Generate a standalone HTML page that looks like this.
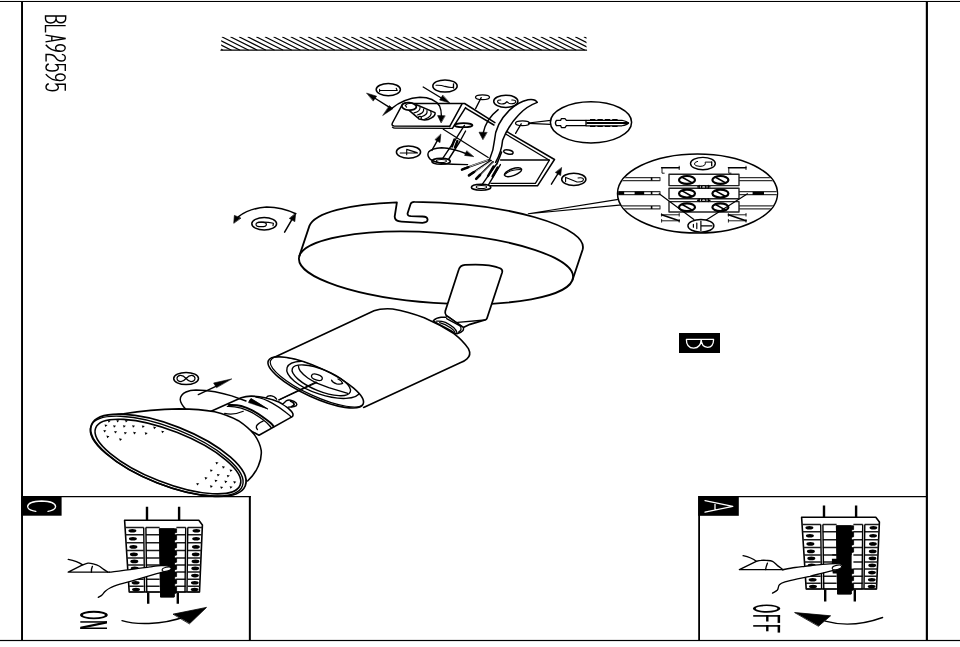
<!DOCTYPE html>
<html><head><meta charset="utf-8"><title>BLA92595</title>
<style>
html,body{margin:0;padding:0;background:#fff;}
body{width:960px;height:647px;overflow:hidden;font-family:"Liberation Sans",sans-serif;}
svg{display:block}
</style></head><body>
<svg width="960" height="647" viewBox="0 0 960 647" stroke-linecap="round" stroke-linejoin="round">
<defs><clipPath id="hclip"><rect x="221.2" y="36.8" width="365.3" height="13.6"/></clipPath></defs>
<rect width="960" height="647" fill="#fff"/>
<g id="frame" stroke="#000" fill="none">
<rect x="0" y="0.95" width="960" height="1.05" fill="#000" stroke="none"/>
<rect x="0" y="639.9" width="960" height="1.2" fill="#000" stroke="none"/>
<rect x="21.05" y="1" width="1.95" height="639.5" fill="#000" stroke="none"/>
<rect x="925.8" y="1" width="2.15" height="639.5" fill="#000" stroke="none"/>
<path d="M22,496.55 H250.8" stroke-width="1.15" stroke-linecap="butt"/><path d="M249.85,496 V640" stroke-width="2" stroke-linecap="butt"/>
<path d="M927,496.55 H699.2" stroke-width="1.15" stroke-linecap="butt"/><path d="M699.1,496 V640" stroke-width="1.8" stroke-linecap="butt"/>
</g>
<g id="hatch" stroke="#000" stroke-width="1.35" fill="none" clip-path="url(#hclip)">
<line x1="196.40" y1="37" x2="222.40" y2="50"/>
<line x1="205.02" y1="37" x2="231.02" y2="50"/>
<line x1="213.64" y1="37" x2="239.64" y2="50"/>
<line x1="222.26" y1="37" x2="248.26" y2="50"/>
<line x1="230.88" y1="37" x2="256.88" y2="50"/>
<line x1="239.50" y1="37" x2="265.50" y2="50"/>
<line x1="248.12" y1="37" x2="274.12" y2="50"/>
<line x1="256.74" y1="37" x2="282.74" y2="50"/>
<line x1="265.36" y1="37" x2="291.36" y2="50"/>
<line x1="273.98" y1="37" x2="299.98" y2="50"/>
<line x1="282.60" y1="37" x2="308.60" y2="50"/>
<line x1="291.22" y1="37" x2="317.22" y2="50"/>
<line x1="299.84" y1="37" x2="325.84" y2="50"/>
<line x1="308.46" y1="37" x2="334.46" y2="50"/>
<line x1="317.08" y1="37" x2="343.08" y2="50"/>
<line x1="325.70" y1="37" x2="351.70" y2="50"/>
<line x1="334.32" y1="37" x2="360.32" y2="50"/>
<line x1="342.94" y1="37" x2="368.94" y2="50"/>
<line x1="351.56" y1="37" x2="377.56" y2="50"/>
<line x1="360.18" y1="37" x2="386.18" y2="50"/>
<line x1="368.80" y1="37" x2="394.80" y2="50"/>
<line x1="377.42" y1="37" x2="403.42" y2="50"/>
<line x1="386.04" y1="37" x2="412.04" y2="50"/>
<line x1="394.66" y1="37" x2="420.66" y2="50"/>
<line x1="403.28" y1="37" x2="429.28" y2="50"/>
<line x1="411.90" y1="37" x2="437.90" y2="50"/>
<line x1="420.52" y1="37" x2="446.52" y2="50"/>
<line x1="429.14" y1="37" x2="455.14" y2="50"/>
<line x1="437.76" y1="37" x2="463.76" y2="50"/>
<line x1="446.38" y1="37" x2="472.38" y2="50"/>
<line x1="455.00" y1="37" x2="481.00" y2="50"/>
<line x1="463.62" y1="37" x2="489.62" y2="50"/>
<line x1="472.24" y1="37" x2="498.24" y2="50"/>
<line x1="480.86" y1="37" x2="506.86" y2="50"/>
<line x1="489.48" y1="37" x2="515.48" y2="50"/>
<line x1="498.10" y1="37" x2="524.10" y2="50"/>
<line x1="506.72" y1="37" x2="532.72" y2="50"/>
<line x1="515.34" y1="37" x2="541.34" y2="50"/>
<line x1="523.96" y1="37" x2="549.96" y2="50"/>
<line x1="532.58" y1="37" x2="558.58" y2="50"/>
<line x1="541.20" y1="37" x2="567.20" y2="50"/>
<line x1="549.82" y1="37" x2="575.82" y2="50"/>
<line x1="558.44" y1="37" x2="584.44" y2="50"/>
<line x1="567.06" y1="37" x2="593.06" y2="50"/>
<line x1="575.68" y1="37" x2="601.68" y2="50"/>
<line x1="584.30" y1="37" x2="610.30" y2="50"/>
</g><line x1="221" y1="50.2" x2="586.5" y2="50.2" stroke="#000" stroke-width="1.3"/>
<g id="model" transform="translate(45.5,15.3) rotate(90) scale(1,0.96)" stroke="#000" stroke-width="1.45" fill="none" stroke-linecap="butt" stroke-linejoin="miter">
<!-- B -->
<g transform="translate(0,0)"><path d="M0.6,0 V-21 M0,-21 H3.6 Q7.4,-20.6 7.4,-16 Q7.4,-11.6 3.6,-11 H0.6 M3.6,-11 Q7.6,-10.4 7.6,-5.4 Q7.6,-0.4 3.6,0 H0"/></g>
<!-- L -->
<g transform="translate(9.7,0)"><path d="M0.6,-21 V0 H7.4"/></g>
<!-- A -->
<g transform="translate(19.6,0)"><path d="M0.2,0 L3.6,-21 L7,0 M1.2,-6.6 H6"/></g>
<!-- 9 -->
<g transform="translate(28.9,0)"><ellipse cx="3.8" cy="-15.5" rx="3.3" ry="5"/><path d="M7.1,-15 Q7,-5.5 0.6,-0.3"/></g>
<!-- 2 -->
<g transform="translate(38.5,0)"><path d="M0.6,-17 Q1,-20.6 3.9,-20.6 Q7.2,-20.6 7.2,-16.4 Q7.2,-12.6 3.6,-10.4 Q0.6,-8.4 0.6,-4 V-0.6 H7.8"/></g>
<!-- 5 -->
<g transform="translate(48.3,0)"><path d="M7.4,-20.6 H1 V-11.4 Q2.4,-13.4 4.2,-13.4 Q7.4,-13.2 7.4,-7 Q7.4,-0.5 3.8,-0.5 Q1.2,-0.5 0.4,-3.4"/></g>
<!-- 9 -->
<g transform="translate(58.2,0)"><ellipse cx="3.8" cy="-15.5" rx="3.3" ry="5"/><path d="M7.1,-15 Q7,-5.5 0.6,-0.3"/></g>
<!-- 5 -->
<g transform="translate(68,0)"><path d="M7.4,-20.6 H1 V-11.4 Q2.4,-13.4 4.2,-13.4 Q7.4,-13.2 7.4,-7 Q7.4,-0.5 3.8,-0.5 Q1.2,-0.5 0.4,-3.4"/></g>
</g>

<g id="base" stroke="#000" stroke-width="1.8" fill="none">
<!-- front (lower) ellipse -->
<ellipse cx="436" cy="267.8" rx="137.4" ry="35.1" transform="rotate(4 436 267.8)" fill="#fff"/>
<!-- top edge with notch -->
<path d="M299.4,255.9 L309.4,225.9 A137.4,35.1 4 0 1 396.9,202.3
 L394.7,216.5 Q394.6,221.2 401.5,221.6 L422.5,222.8 Q427.6,222.6 427.6,219.6 Q427.4,216.6 422.5,216.5 L411,216.2 Q407.2,216 407.6,213.2 L410.6,204 Q411.4,201.8 414.5,201.9
 A137.4,35.1 4 0 1 582.6,249.7 L572.6,279.7"/>
</g>
<g id="arm" stroke="#000" stroke-width="1.75" fill="#fff">
<path d="M445.3,311 L458.8,269.6 Q460,265.3 465,264.9 Q479,264.1 489,265.3 Q497,266.5 500.6,268.6 Q502.8,270 502.2,272.2 L487,318.2 Q486.6,319.6 485,320 L478.3,321.8 L470,324.3 L463.3,327.5 L446.2,315.4 Q444.6,313.4 445.3,311 Z"/>
<path d="M485,320 L457.6,322.4" fill="none" stroke-width="1.4"/>
</g>

<g id="head" stroke="#000" stroke-width="1.6" fill="none">
<!-- cylinder body -->
<path d="M272.3,358.2 L374,310.8 Q381,308.2 392.7,309 Q408,311.6 424.2,317.8 Q440,324.5 453.9,333.6 Q463,340.6 468.4,348.6 Q471.6,355 467,358.8 Q464,361.4 460.8,362.6 L363.6,407.4" fill="#fff"/>
<!-- front face -->
<ellipse cx="315.75" cy="382.4" rx="52.1" ry="14.9" transform="rotate(24.65 315.75 382.4)" fill="#fff"/>
<clipPath id="faceclip"><ellipse cx="315.75" cy="382.4" rx="52.1" ry="14.9" transform="rotate(24.65 315.75 382.4)"/></clipPath>
<g clip-path="url(#faceclip)">
<ellipse cx="317.4" cy="381.9" rx="51.4" ry="14.3" transform="rotate(24.65 317.4 381.9)" stroke-width="1.2"/>
<ellipse cx="323.5" cy="379.8" rx="38.4" ry="14.9" transform="rotate(18.5 323.5 379.8)" stroke-width="1.4"/>
</g>
<!-- socket ring 2 -->
<ellipse cx="321.3" cy="380.3" rx="31.2" ry="10.8" transform="rotate(22 321.3 380.3)" stroke-width="1.4"/>
<!-- inner arc / floor -->
<path d="M298.4,365.8 Q298.6,369 300.2,371 Q303.4,375 307.8,378 Q312,380.8 316.2,382.8 L328.7,387.7 L347.8,393.4" stroke-width="1.3"/>
<ellipse cx="316.9" cy="377.25" rx="5.6" ry="2.8" transform="rotate(18 316.9 377.25)" stroke-width="1.3"/>
<path d="M331.6,380.2 Q332.4,382.6 336.6,383.8 Q340.6,384.6 342.6,383.4 Q342,380.8 338,379 " stroke-width="1.3"/>
<path d="M316.9,382.5 L279,400" stroke-width="1.2"/>
</g>
<g id="joint" stroke="#000" stroke-width="1.5" fill="none">
<path d="M446,317.2 L441,317.2 Q436,317.6 433.3,320.8 Q438,324 445,327.5 Q451,330.6 455,333.3 L457,333.8 Q461,333 463,330.6 Q464,328.8 463.3,327.5 L447.5,316.4 Z" fill="#fff"/>
<path d="M436.6,321.2 Q441,320.8 445.4,322.4 Q450,324.6 453.6,327.6 Q456.4,330.2 456.9,332.6" stroke-width="1.3"/>
<path d="M439.6,322.6 Q445,323.8 451,328 Q454.2,330.4 454.6,332" stroke-width="1.2"/>
<path d="M446.6,318.6 L459.6,325.6 Q461.6,327.4 461,329.6 Q460.2,331.4 458.6,332.2" stroke-width="1.3"/>
</g>

<g id="bulb" stroke="#000" stroke-width="1.58" fill="none">
<!-- base -->
<path d="M210,411.8 L241.2,397.7 Q246,396 251.7,396.1 Q258,396.2 265,397.8 Q272,399.4 278.8,402 Q284,404.6 288.1,408.1 Q292,411.4 292.8,413.6 Q293.4,415.6 292.3,416.6 L259,435.2 L240,425 Z" fill="#fff"/>
<path d="M255.8,397.2 Q264,398.4 272.6,403.4 Q280,407.6 286,412.4 Q290,415.4 291.2,417" stroke-width="1.29"/>
<!-- ring -->
<path d="M228.8,405 Q236,404.6 241.2,406 Q247,407.6 251.7,410.2 Q257,413 262.1,416.5 Q267,420 270.4,422.7 Q272.6,424.6 273.6,426.4" stroke-width="2"/>
<path d="M227.4,406.4 Q234,406.2 241.2,408.2 Q247,410.2 251.7,412.4 Q257,415.4 262.1,419 Q267,422.6 269.2,425.2 Q270.8,427 271.2,427.8" stroke-width="1.4"/>
<path d="M263.1,421.1 Q257.8,423.4 256.5,426 Q255.8,428 257.4,429.6" stroke-width="1.4"/>
<path d="M224.6,413.4 Q234,415.4 243.3,411.3" stroke-width="1.17"/>
<!-- pins -->
<path d="M266.6,397.6 Q267.4,395.6 270.6,395.6 Q274.6,396 276.6,399.2" stroke-width="1.29" fill="#fff"/>
<path d="M282.9,404 L286.6,400.6 Q288.4,399.6 290.6,400.2 Q294.6,401.4 296.2,403 Q297.4,404.6 296.4,405.6 Q294.6,406.8 291,407 L288.1,407.1" stroke-width="1.4" fill="#fff"/>
<path d="M290.6,401.2 Q293.6,402 294.2,404.2 Q293.8,406 291.6,406.6 " stroke-width="1.64"/>
<path d="M278.8,399.8 L316,382" stroke-width="1.29"/>
<!-- dome -->
<path d="M165,409.3 Q180,408.6 192,408.9 Q203,409.4 214.7,411.8 Q228,415.2 238.4,420.7 Q248.4,427.4 254.3,434.6 Q260,442.4 261.2,450.4 Q262,458 258.2,466.3 Q255,474 247.6,481 L160,470 Z" fill="#fff" stroke="none"/>
<path d="M102,417.4 Q112,415.2 123.6,413.8 Q150,409.6 179,408.9 Q200,409 214.7,411.8 Q228,415.2 238.4,420.7 Q248.4,427.4 254.3,434.6 Q260,442.4 261.2,450.4 Q262,458 258.2,466.3 Q255,474 247.6,481"/>
<!-- back bump with rotation arc -->
<path d="M185.4,408.8 Q180.6,403.6 180.2,399.6 Q180.4,394.6 186,392 Q190,390.2 196,390 Q205,390 215,391.8 Q224,393.6 231.7,395.8 L246,401" stroke-width="1.4"/>
<path d="M267.4,408.8 L249,401.4 L251.2,398.6 Q258,402.6 267.4,408.8 Z" fill="#000" stroke-width="0.7"/>
<path d="M267.4,408.8 L248.4,402.6 L250.4,399 Z" fill="#000" stroke-width="0.5"/>
<!-- reflector rim -->
<ellipse cx="168.4" cy="455.3" rx="82.7" ry="29.8" transform="rotate(21.6 168.4 455.3)" fill="#fff" stroke-width="1.7"/>
<ellipse cx="166.7" cy="456.1" rx="81.4" ry="28.4" transform="rotate(21.6 166.7 456.1)" stroke-width="1.4"/>
<ellipse cx="167.9" cy="456.55" rx="77.7" ry="25.8" transform="rotate(21.6 167.9 456.55)" stroke-width="1.6"/>
</g>
<g id="dots" fill="#000" stroke="none">
<path d="M107.7,420.1 L110.7,420.7 L108.6,422.7 Z"/>
<path d="M116.4,419.9 L119.4,420.5 L117.3,422.5 Z"/>
<path d="M125.0,419.9 L128.0,420.5 L125.9,422.5 Z"/>
<path d="M104.5,424.5 L107.5,425.1 L105.4,427.1 Z"/>
<path d="M113.1,425.2 L116.1,425.8 L114.0,427.8 Z"/>
<path d="M122.9,425.2 L125.9,425.8 L123.8,427.8 Z"/>
<path d="M132.1,425.2 L135.1,425.8 L133.0,427.8 Z"/>
<path d="M141.8,425.5 L144.8,426.1 L142.7,428.1 Z"/>
<path d="M153.2,426.6 L156.2,427.2 L154.1,429.2 Z"/>
<path d="M103.4,429.9 L106.4,430.5 L104.3,432.5 Z"/>
<path d="M114.2,431.0 L117.2,431.6 L115.1,433.6 Z"/>
<path d="M124.0,432.0 L127.0,432.6 L124.9,434.6 Z"/>
<path d="M133.2,431.8 L136.2,432.4 L134.1,434.4 Z"/>
<path d="M144.7,432.3 L147.7,432.9 L145.6,434.9 Z"/>
<path d="M161.3,430.7 L164.3,431.3 L162.2,433.3 Z"/>
<path d="M106.4,435.6 L109.4,436.2 L107.3,438.2 Z"/>
<path d="M119.1,438.3 L122.1,438.9 L120.0,440.9 Z"/>
<path d="M215.5,461.9 L218.5,462.5 L216.4,464.5 Z"/>
<path d="M222.1,466.1 L225.1,466.7 L223.0,468.7 Z"/>
<path d="M209.9,469.4 L212.9,470.0 L210.8,472.0 Z"/>
<path d="M229.6,469.4 L232.6,470.0 L230.5,472.0 Z"/>
<path d="M216.9,474.0 L219.9,474.6 L217.8,476.6 Z"/>
<path d="M226.8,475.0 L229.8,475.6 L227.7,477.6 Z"/>
<path d="M204.6,477.1 L207.6,477.7 L205.5,479.7 Z"/>
<path d="M214.6,479.7 L217.6,480.3 L215.5,482.3 Z"/>
<path d="M224.4,480.6 L227.4,481.2 L225.3,483.2 Z"/>
<path d="M233.3,481.1 L236.3,481.7 L234.2,483.7 Z"/>
<path d="M196.3,482.9 L199.3,483.5 L197.2,485.5 Z"/>
<path d="M209.9,485.3 L212.9,485.9 L210.8,487.9 Z"/>
<path d="M220.2,486.5 L223.2,487.1 L221.1,489.1 Z"/>
<path d="M229.6,486.2 L232.6,486.8 L230.5,488.8 Z"/>
</g>
<g id="a8" stroke="#000" stroke-width="1.4" fill="none">
<path d="M198.3,394.6 L218,385.4"/>
<path d="M231.4,379 L213.6,383 L216.4,387.4 Z" fill="#000" stroke-width="0.6"/>
<ellipse cx="186.1" cy="378.5" rx="12.4" ry="6.1" stroke-width="1.52"/>
<path d="M186.1,378.5 Q183,375 180,375.4 Q176.8,376.2 177,378.6 Q177.4,381.4 181,381.6 Q183.6,381.2 186.1,378.5 Q189,375.2 192,375.4 Q195.2,376.2 195,378.6 Q194.6,381.4 191,381.6 Q188.4,381.2 186.1,378.5" stroke-width="1.17"/>
</g>

<g id="bracket" stroke="#000" stroke-width="1.52" fill="none">
<!-- flat plate -->
<path d="M404.4,103.5 H464.6 L494.9,122.6" />
<path d="M404.4,103.5 Q402.8,103.6 402,105.2 L392.4,123 Q391.2,125.6 394,125.9 L449.6,126.2"/>
<path d="M392.4,127.2 Q393.2,128.2 395,128.2 L451.6,128.4" stroke-width="1.29"/>
<!-- fold -->
<path d="M461.9,104.2 L449.6,126.6 M465.6,107.6 L452.4,128.4"/>
<!-- bracket upper strip edges -->
<path d="M465.6,108.2 L493.9,125"/>
<path d="M504.3,130.1 L554.5,159.5 L537.5,185.8 H489.6"/>
<path d="M504.3,133.2 L549.4,160.2 L535.4,183.4 H491" stroke-width="1.29"/>
<path d="M500.6,160 H549.2" stroke-width="1.4"/>
<!-- back edge diagonal -->
<path d="M443.3,129.3 L488.2,157.5" stroke-width="1.29"/>
<!-- holes -->
<ellipse cx="463.5" cy="125.2" rx="9" ry="2" stroke-width="1.8"/>
<ellipse cx="508.4" cy="152" rx="4.8" ry="2" transform="rotate(12 508.4 152)" stroke-width="1.4"/>
<ellipse cx="513" cy="172.2" rx="9" ry="3.4" transform="rotate(-20 513 172.2)" stroke-width="1.52"/>
<path d="M505.4,174 Q510,169.8 520.4,169.6" stroke-width="1.05"/>
<!-- drill markers -->
<ellipse cx="482.5" cy="97.2" rx="7" ry="2.4" stroke-width="1.29"/>
<path d="M481.2,97.6 L475.6,108.6" stroke-width="1.29"/>
<ellipse cx="522.5" cy="123.2" rx="7" ry="2.4" stroke-width="1.29"/>
<path d="M521.2,123.8 L515.6,133.4" stroke-width="1.29"/>
</g>
<g id="cable" stroke="#000" stroke-width="1.52" fill="#fff">
<path d="M489.8,158.8 Q493.6,150 494.5,140.3 Q495.4,124 509.5,110.1 Q518,102 528,99.7 Q535.4,98.6 537.3,102.4 Q526,106.6 518.8,114.8 Q508.6,125 502.6,140.3 Q501.6,152 495.6,162.3"/>
</g>
<g id="wires" stroke="#000" fill="none">
<path d="M489.6,159.6 L462.6,169.2" stroke-width="1.8"/>
<path d="M491,160.6 L469.6,175" stroke-width="1.8"/>
<path d="M493,161.8 L476.6,178.4" stroke-width="1.8"/>
<path d="M468,167.4 L462,169.6 M474,172 L469,175.4 M480,175 L476.2,178.8" stroke-width="2.6"/>
<path d="M488,160 L470,166.4 M490.6,161.6 L476,171.2 M492.6,163 L481.6,174" stroke="#fff" stroke-width="0.7"/>
</g>
<g id="screws" stroke="#000" fill="none" stroke-width="1.4">
<!-- screw 1 -->
<ellipse cx="441.1" cy="161.3" rx="9.2" ry="3" fill="#fff" stroke-width="1.64"/>
<ellipse cx="441.4" cy="161" rx="5" ry="1.5" stroke-width="1.05"/>
<path d="M442.9,158.2 L455.7,139.1 L464.4,125.4 M448.8,159 L459.6,142 L465.6,131"/>
<path d="M454.4,139.6 L452,146.4 M457.4,141 L455,147.4" stroke-width="2.4"/>
<!-- screw 2 -->
<ellipse cx="481.1" cy="187.2" rx="9.7" ry="3" fill="#fff" stroke-width="1.64"/>
<ellipse cx="481.4" cy="186.9" rx="5.2" ry="1.5" stroke-width="1.05"/>
<path d="M482.4,184.2 L496.6,164 M488.6,184.6 L500.4,164.6"/>
<path d="M493.6,166.4 L488,176 M497.6,167.6 L492.6,176.4" stroke-width="2.4"/>
<path d="M497,163.6 Q499.4,158 501.6,152" stroke-width="1.6"/>
</g>
<g id="plate-screw" stroke="#000" fill="#fff" stroke-width="1.5">
<path d="M409.4,110.6 L417.6,117.6 Q420,119.8 424.2,120 Q428,120.2 431.5,117.9 Q435.8,115.2 435,112.6 L416.5,104.8 Z"/>
<path d="M420,107.4 Q420.6,111.4 414,112.8 M423.6,109 Q424.4,113.2 417.4,115 M427,110.6 Q428,114.8 420.8,117 M430.8,111.6 Q432.8,116.2 424.6,119.2" fill="none" stroke-width="1.2"/>
<ellipse cx="409.1" cy="106.4" rx="7.3" ry="3.7" transform="rotate(4 409.1 106.4)" stroke-width="1.8"/>
<path d="M405.2,105.4 Q406.8,103.4 410.8,103.2 M405.2,105.4 L406.6,107.2" fill="none" stroke-width="1.1"/>
<rect x="418.5" y="116.4" width="2.8" height="2.8" rx="1" stroke-width="1.3"/>
</g>
<g id="arrows" stroke="#000" fill="none" stroke-width="1.4">
<!-- arrow 1 -->
<path d="M390.7,108.1 L373,97"/>
<path d="M366.9,93.2 L376.6,96.2 L373.4,100.8 Z" fill="#000" stroke-width="0.6"/>
<path d="M383,115.3 L392.9,108.7 L389.6,105.8 Z" fill="#000" stroke-width="0.6"/>
<!-- arc arrow over plate -->
<path d="M391.8,108.4 Q404,98.4 419.9,97.3 Q434,97.4 439.6,106 Q441.4,110 441.4,116"/>
<path d="M441,122.6 L437.6,115.6 L444.8,115.8 Z" fill="#000" stroke-width="0.6"/>
<!-- arrow 7 -->
<path d="M423.2,87 L443,99"/>
<path d="M449.4,102.8 L439.6,100 L442.6,95.4 Z" fill="#000" stroke-width="0.6"/>
<!-- arrow 3 curved -->
<path d="M498.2,109.6 Q486,119 483.2,133"/>
<path d="M482.8,139.4 L479,132.2 L486.8,132.4 Z" fill="#000" stroke-width="0.6"/>
<!-- arrow 4 up -->
<path d="M431.9,150.4 L438,139.4"/>
<path d="M440.8,134.4 L440,142.6 L435.2,139.8 Z" fill="#000" stroke-width="0.6"/>
<!-- arc around screw 1 -->
<path d="M467.6,164.6 L452.5,164.2 Q436,163.6 430.4,159.4 Q426.6,155.6 428.6,152 Q431.6,148.2 441.6,147.7 Q452.5,148 467,154"/>
<path d="M473.4,156.6 L464.6,155.4 L466.6,151 Z" fill="#000" stroke-width="0.6"/>
<!-- arrow 2 -->
<path d="M551.4,184.2 L558.6,172.6"/>
<path d="M561.6,167.8 L560.6,175.6 L555.6,172.6 Z" fill="#000" stroke-width="0.6"/>
</g>
<g id="numlabels" stroke="#000" fill="none" stroke-width="1.5">
<ellipse cx="388.3" cy="89.6" rx="12.1" ry="6.1"/>
<path d="M379.6,90.5 H397.2 L396.2,88.2 M379.6,89.4 V91.6" stroke-width="1.1"/>
<ellipse cx="445" cy="86" rx="12.2" ry="6.1"/>
<path d="M436,85.3 Q441,85 445,86.4 Q449,87.6 452.6,87.4" stroke-width="1.1"/><path d="M453.5,83.8 V88" stroke-width="1.3"/>
<ellipse cx="505.8" cy="101.3" rx="12.1" ry="6.1"/>
<path d="M500.8,100 Q497.4,99.8 497.6,101.6 Q498,103.8 501.8,104 Q505.6,103.8 506.9,101.6 Q508,103.6 511,103.7 Q515.6,103.6 515.8,101.6 Q515.6,99.8 511.8,100" stroke-width="1.1"/>
<ellipse cx="408.5" cy="152.1" rx="12.1" ry="6.1"/>
<path d="M400.2,153 H417.6 M406.7,154.8 V149.4 L417,152.6" stroke-width="1.1"/>
<ellipse cx="573.8" cy="179.3" rx="12.1" ry="6.1"/>
<path d="M565.6,177.2 V181.8 M565.8,177.4 L577,182 Q581,182.2 582.8,181 Q584,179.6 583,178.4 Q581.6,177.4 578,178" stroke-width="1.1"/>
</g>

<g id="plugcall" stroke="#000" fill="none" stroke-width="1.52">
<path d="M528.4,123 L550.8,120.4 M528.4,123.4 L550.8,124.4" stroke-width="1.17"/>
<ellipse cx="591" cy="122.3" rx="40.6" ry="20.6" fill="#fff"/>
<path d="M556.4,120.4 H560.6 L561.4,118.6 H565 L566.4,120.4 H586 V125.6 H566.4 L565,127.6 H561.4 L560.6,125.6 H556.4 Q554.4,123 556.4,120.4 Z" stroke-width="1.29"/>
<path d="M586.4,123.1 H626.4 L628.6,123" stroke-width="2" stroke-linecap="butt"/>
<path d="M586,120.3 H622 Q627,121.4 628.6,123 Q627,124.8 622,125.8 H586" stroke-width="1.17"/>
<path d="M590,119.6 H619.4 M590,126.4 H619.4" stroke-width="1.4" stroke-dasharray="5.4 2" stroke-linecap="butt"/>
</g>

<g id="terminal" stroke="#000" fill="none">
<path d="M528.3,213.8 L618.4,199.4 M528.3,213.8 L621.8,204.9" stroke-width="1.1"/>
<ellipse cx="697.5" cy="193.5" rx="80" ry="39.6" fill="#fff" stroke-width="1.5"/>
<clipPath id="tclip"><ellipse cx="697.5" cy="193.5" rx="79.4" ry="39"/></clipPath>
<g clip-path="url(#tclip)" stroke-linecap="butt">
<rect x="610" y="177.6" width="50" height="3" stroke="#333" stroke-width="1.1" fill="#fff"/>
<rect x="738.6" y="177.6" width="50" height="3" stroke="#333" stroke-width="1.1" fill="#fff"/>
<path d="M651.6,177.6 V180.6" stroke-width="1.6"/>
<rect x="610" y="191.6" width="50" height="3" stroke="#333" stroke-width="1.1" fill="#fff"/>
<rect x="738.6" y="191.6" width="50" height="3" stroke="#333" stroke-width="1.1" fill="#fff"/>
<path d="M651.6,191.6 V194.6" stroke-width="1.6"/>
<rect x="610" y="205.9" width="50" height="3" stroke="#333" stroke-width="1.1" fill="#fff"/>
<rect x="738.6" y="205.9" width="50" height="3" stroke="#333" stroke-width="1.1" fill="#fff"/>
<path d="M651.6,205.9 V208.9" stroke-width="1.6"/>
<path d="M618,193.1 H624.2 M634.6,193.1 H644.2" stroke-width="3.2"/>
<path d="M752.6,193.3 H764" stroke-width="3.2"/>
</g>
<rect x="669" y="174.3" width="70" height="11.3" stroke="#222" stroke-width="1.4" fill="#fff"/>
<rect x="669" y="188.2" width="70" height="10.6" stroke="#222" stroke-width="1.4" fill="#fff"/>
<rect x="669" y="201.6" width="70" height="10.4" stroke="#222" stroke-width="1.4" fill="#fff"/>
<ellipse cx="703.7" cy="186.9" rx="2.3" ry="1.25" stroke-width="1.3" fill="#fff"/>
<path d="M699.2,185.5 V188.3 M708.2,185.5 V188.3 M699.2,186.9 H697.6 M708.2,186.9 H710" stroke-width="1.4"/>
<ellipse cx="703.7" cy="200.2" rx="2.3" ry="1.25" stroke-width="1.3" fill="#fff"/>
<path d="M699.2,198.79999999999998 V201.6 M708.2,198.79999999999998 V201.6 M699.2,200.2 H697.6 M708.2,200.2 H710" stroke-width="1.4"/>
<ellipse cx="687" cy="179.9" rx="8" ry="3.9" stroke-width="2.2"/>
<path d="M682.2,177.20000000000002 L691.8,182.6" stroke-width="1.6"/>
<ellipse cx="687" cy="193.6" rx="8" ry="3.9" stroke-width="2.2"/>
<path d="M682.2,190.9 L691.8,196.29999999999998" stroke-width="1.6"/>
<ellipse cx="687" cy="207.2" rx="8" ry="3.9" stroke-width="2.2"/>
<path d="M682.2,204.5 L691.8,209.89999999999998" stroke-width="1.6"/>
<ellipse cx="720.4" cy="179.9" rx="8" ry="3.9" stroke-width="2.2"/>
<path d="M715.6,177.20000000000002 L725.1999999999999,182.6" stroke-width="1.6"/>
<ellipse cx="720.4" cy="193.6" rx="8" ry="3.9" stroke-width="2.2"/>
<path d="M715.6,190.9 L725.1999999999999,196.29999999999998" stroke-width="1.6"/>
<ellipse cx="720.4" cy="207.2" rx="8" ry="3.9" stroke-width="2.2"/>
<path d="M715.6,204.5 L725.1999999999999,209.89999999999998" stroke-width="1.6"/>
<path d="M659.2,193.8 L693.9,219.6 M747.5,193.8 L705.8,220.2" stroke-width="1.2"/>
<ellipse cx="700.9" cy="225.8" rx="13" ry="6.3" stroke-width="1.4" fill="#fff"/>
<path d="M700.9,221 V230.6 M700.9,225.8 H712 M696.8,223 V228.6 M693.4,224.4 V227.2" stroke-width="1.2"/>
<ellipse cx="702.9" cy="163.6" rx="12.4" ry="6.2" stroke-width="1.4"/>
<path d="M711.7,162 V165.8" stroke-width="1.3"/><path d="M711.7,162.1 H705.2 Q706.4,166.2 700,166.4 Q694.4,166.2 694.4,164 Q694.6,161.8 697.6,161.4" stroke-width="1"/>
<path d="M661.6,167.8 H679.2" stroke-width="1.4"/><path d="M662.0,167.8 V173.20000000000002 L664.2,173.20000000000002" stroke-width="0.9"/><path d="M679.2,166.20000000000002 V169.60000000000002" stroke-width="0.9"/>
<path d="M728.4,167.8 H746.0" stroke-width="1.4"/><path d="M728.8,167.8 V173.20000000000002 L731.0,173.20000000000002" stroke-width="0.9"/><path d="M746.0,166.20000000000002 V169.60000000000002" stroke-width="0.9"/>
<path d="M661.6,214.8 H679.2 M661.6,220.8 H679.2" stroke-width="0.9"/><path d="M679.2,220.8 L661.6,214.8" stroke-width="1.6"/><path d="M661.6,213.60000000000002 V216.20000000000002 M679.2,213.4 V216.20000000000002 M679.2,219.4 V222.20000000000002 M661.6,219.4 V222.20000000000002" stroke-width="0.8"/>
<path d="M728.4,214.8 H746.0 M728.4,220.8 H746.0" stroke-width="0.9"/><path d="M746.0,220.8 L728.4,214.8" stroke-width="1.6"/><path d="M728.4,213.60000000000002 V216.20000000000002 M746.0,213.4 V216.20000000000002 M746.0,219.4 V222.20000000000002 M728.4,219.4 V222.20000000000002" stroke-width="0.8"/>
</g>

<g id="panelC" stroke="#000" fill="none" stroke-linecap="butt">
<path d="M147,506.7 V521 M179.1,506.7 V521 M148.2,592 V603.8 M177.8,592 V603.8" stroke-width="2.4"/>
<path d="M124.6,520.3 H198.8 L202.4,524.9 L199.5,592 H129.2 Z" fill="#fff" stroke-width="1.6" stroke-linejoin="round"/>
<path d="M125.1,527.5 H143.7 M145.8,527.5 H159.6 M176.4,527.5 H185.7 M187.7,527.5 H202.3" stroke-width="1.5" stroke="#1a1a1a"/>
<path d="M125.5,534.8 H143.7 M145.8,534.8 H159.6 M176.4,534.8 H185.7 M187.7,534.8 H202.0" stroke-width="1.5" stroke="#1a1a1a"/>
<path d="M126.0,542.8 H143.7 M145.8,542.8 H159.6 M176.4,542.8 H185.7 M187.7,542.8 H201.6" stroke-width="1.5" stroke="#1a1a1a"/>
<path d="M126.5,550.6 H143.7 M145.8,550.6 H159.6 M176.4,550.6 H185.7 M187.7,550.6 H201.3" stroke-width="1.5" stroke="#1a1a1a"/>
<path d="M127.0,557.9 H143.7 M145.8,557.9 H159.6 M176.4,557.9 H185.7 M187.7,557.9 H201.0" stroke-width="1.5" stroke="#1a1a1a"/>
<path d="M127.5,564.9 H143.7 M145.8,564.9 H159.6 M176.4,564.9 H185.7 M187.7,564.9 H200.7" stroke-width="1.5" stroke="#1a1a1a"/>
<path d="M127.9,572.0 H143.7 M145.8,572.0 H159.6 M176.4,572.0 H185.7 M187.7,572.0 H200.4" stroke-width="1.5" stroke="#1a1a1a"/>
<path d="M128.4,579.2 H143.7 M145.8,579.2 H159.6 M176.4,579.2 H185.7 M187.7,579.2 H200.1" stroke-width="1.5" stroke="#1a1a1a"/>
<path d="M128.8,586.2 H143.7 M145.8,586.2 H159.6 M176.4,586.2 H185.7 M187.7,586.2 H199.8" stroke-width="1.5" stroke="#1a1a1a"/>
<path d="M129.2,592 H143.7 M145.8,592 H159.6 M176.4,592 H185.7 M187.7,592 H199.5" stroke-width="1.5" stroke="#1a1a1a"/>
<path d="M143.7,527.5 L144.6,592 M145.9,527.5 L146.8,592 M185.7,527.5 L185,592 M187.8,527.5 L187,592" stroke-width="1.4"/>
<path d="M159.4,528.8 L160.6,597 H174.2 V528.8 Z" fill="#000" stroke-width="0.8"/>
<path d="M159.4,528.8 L159.4,528.8 L176.6,528.8 L176.6,532.5 L174.2,533.0 L174.2,534.8 L159.4,534.8 L159.5,534.8 L176.6,534.8 L176.6,539.7 L174.2,540.4 L174.2,542.8 L159.5,542.8 L159.6,542.8 L176.6,542.8 L176.6,547.7 L174.2,548.3 L174.2,550.6 L159.6,550.6 L159.8,550.6 L176.6,550.6 L176.6,555.1 L174.2,555.7 L174.2,557.9 L159.8,557.9 L159.9,557.9 L176.6,557.9 L176.6,562.2 L174.2,562.8 L174.2,564.9 L159.9,564.9 L160.0,564.9 L176.6,564.9 L176.6,569.3 L174.2,569.9 L174.2,572.0 L160.0,572.0 L160.1,572.0 L176.6,572.0 L176.6,576.5 L174.2,577.0 L174.2,579.2 L160.1,579.2 L160.2,579.2 L176.6,579.2 L176.6,583.5 L174.2,584.1 L174.2,586.2 L160.2,586.2 L160.4,586.2 L176.6,586.2 L176.6,592.9 L174.2,593.8 L174.2,597 L160.4,597 L160.6,597 Z" fill="#000" stroke-width="0.8"/>
<ellipse cx="132.4" cy="530.8" rx="4" ry="1.8" fill="#000" stroke="none"/>
<ellipse cx="196.4" cy="530.8" rx="3.9" ry="1.8" fill="#000" stroke="none"/>
<ellipse cx="132.9" cy="538.7" rx="4" ry="1.8" fill="#000" stroke="none"/>
<ellipse cx="196.1" cy="538.7" rx="3.9" ry="1.8" fill="#000" stroke="none"/>
<ellipse cx="133.4" cy="546.9" rx="4" ry="1.8" fill="#000" stroke="none"/>
<ellipse cx="195.9" cy="546.9" rx="3.9" ry="1.8" fill="#000" stroke="none"/>
<ellipse cx="133.9" cy="554.4" rx="4" ry="1.8" fill="#000" stroke="none"/>
<ellipse cx="195.7" cy="554.4" rx="3.9" ry="1.8" fill="#000" stroke="none"/>
<ellipse cx="134.3" cy="561.4" rx="4" ry="1.8" fill="#000" stroke="none"/>
<ellipse cx="195.5" cy="561.4" rx="3.9" ry="1.8" fill="#000" stroke="none"/>
<ellipse cx="134.7" cy="568.4" rx="4" ry="1.8" fill="#000" stroke="none"/>
<ellipse cx="195.2" cy="568.4" rx="3.9" ry="1.8" fill="#000" stroke="none"/>
<ellipse cx="135.1" cy="575.6" rx="4" ry="1.8" fill="#000" stroke="none"/>
<ellipse cx="195.0" cy="575.6" rx="3.9" ry="1.8" fill="#000" stroke="none"/>
<ellipse cx="135.6" cy="582.8" rx="4" ry="1.8" fill="#000" stroke="none"/>
<ellipse cx="194.8" cy="582.8" rx="3.9" ry="1.8" fill="#000" stroke="none"/>
<ellipse cx="136.0" cy="589.6" rx="4" ry="1.8" fill="#000" stroke="none"/>
<ellipse cx="194.6" cy="589.6" rx="3.9" ry="1.8" fill="#000" stroke="none"/>
</g>
<g id="handC" stroke="#000" stroke-width="1.35" fill="none">
<path d="M109.3,572.2 C111.4,571.9 117.6,571.2 122.0,570.6 C126.4,570.0 130.8,569.5 135.5,568.9 C140.2,568.3 145.8,567.4 150.0,566.9 C154.2,566.4 158.1,565.9 161.0,565.7 C163.9,565.5 165.7,565.4 167.4,565.8 C169.1,566.2 170.4,567.6 171.0,568.0 L168.4,571.0 L160.0,572.8 L152.5,574.8 L135.5,579.9 L120.0,584.2 L110.0,588.0 Z" fill="#fff" stroke="none"/>
<path d="M68.2,559.4 Q77.4,561.1 82.6,564.9 L68.2,572.1 H109.3"/>
<path d="M82.6,564.9 C83.5,564.6 86.2,563.4 88.0,563.2 C89.8,563.0 91.4,563.4 93.2,563.9 C95.0,564.4 97.3,565.1 99.0,566.0 C100.7,566.9 102.1,568.4 103.6,569.4 C105.1,570.4 107.2,571.7 107.9,572.2"/>
<path d="M92.4,566.4 Q91.0,569.3 91.4,572.2"/>
<path d="M109.3,572.2 C111.4,571.9 117.6,571.2 122.0,570.6 C126.4,570.0 130.8,569.5 135.5,568.9 C140.2,568.3 145.8,567.4 150.0,566.9 C154.2,566.4 158.1,565.9 161.0,565.7 C163.9,565.5 165.7,565.4 167.4,565.8 C169.1,566.2 170.8,567.1 171.0,568.0 C171.2,568.9 170.2,570.2 168.4,571.0 C166.6,571.8 162.7,572.2 160.0,572.8 C157.3,573.4 156.6,573.6 152.5,574.8 C148.4,576.0 140.9,578.3 135.5,579.9 C130.1,581.5 124.2,582.9 120.0,584.2 C115.8,585.6 112.5,586.8 110.0,588.0 C107.5,589.2 106.3,590.4 105.0,591.6 C103.7,592.8 103.1,594.0 102.0,595.0 C100.9,596.0 98.9,597.0 98.3,597.4"/>
<ellipse cx="166.6" cy="569.2" rx="4.6" ry="2.0" transform="rotate(-14 166.6 569.2)" fill="#fff" stroke-width="1.1"/>
</g>
<g id="arrowC" stroke="#000" fill="none">
<path d="M122,620.6 C134,624.4 160,626 187,616" stroke-width="1.4"/>
<path d="M173.4,614.1 L206.5,607.4 L189.7,623.6 Z" fill="#000" stroke-width="0.8"/>
</g>
<g id="panelA" stroke="#000" fill="none" stroke-linecap="butt">
<path d="M824.0,505.4 V518.0 M856.1,505.4 V518.0 M825.2,589.0 V601.4 M854.8,589.0 V601.4" stroke-width="2.4"/>
<path d="M801.6,517.3 H875.8 L879.4,521.9 L876.5,589.0 H806.2 Z" fill="#fff" stroke-width="1.6" stroke-linejoin="round"/>
<path d="M802.1,524.5 H820.7 M822.8,524.5 H836.6 M853.4,524.5 H862.7 M864.7,524.5 H879.3" stroke-width="1.5" stroke="#1a1a1a"/>
<path d="M802.5,531.8 H820.7 M822.8,531.8 H836.6 M853.4,531.8 H862.7 M864.7,531.8 H879.0" stroke-width="1.5" stroke="#1a1a1a"/>
<path d="M803.0,539.8 H820.7 M822.8,539.8 H836.6 M853.4,539.8 H862.7 M864.7,539.8 H878.6" stroke-width="1.5" stroke="#1a1a1a"/>
<path d="M803.5,547.6 H820.7 M822.8,547.6 H836.6 M853.4,547.6 H862.7 M864.7,547.6 H878.3" stroke-width="1.5" stroke="#1a1a1a"/>
<path d="M804.0,554.9 H820.7 M822.8,554.9 H836.6 M853.4,554.9 H862.7 M864.7,554.9 H878.0" stroke-width="1.5" stroke="#1a1a1a"/>
<path d="M804.5,561.9 H820.7 M822.8,561.9 H836.6 M853.4,561.9 H862.7 M864.7,561.9 H877.7" stroke-width="1.5" stroke="#1a1a1a"/>
<path d="M804.9,569.0 H820.7 M822.8,569.0 H836.6 M853.4,569.0 H862.7 M864.7,569.0 H877.4" stroke-width="1.5" stroke="#1a1a1a"/>
<path d="M805.4,576.2 H820.7 M822.8,576.2 H836.6 M853.4,576.2 H862.7 M864.7,576.2 H877.1" stroke-width="1.5" stroke="#1a1a1a"/>
<path d="M805.8,583.2 H820.7 M822.8,583.2 H836.6 M853.4,583.2 H862.7 M864.7,583.2 H876.8" stroke-width="1.5" stroke="#1a1a1a"/>
<path d="M806.2,589.0 H820.7 M822.8,589.0 H836.6 M853.4,589.0 H862.7 M864.7,589.0 H876.5" stroke-width="1.5" stroke="#1a1a1a"/>
<path d="M820.7,524.5 L821.6,589.0 M822.9,524.5 L823.8,589.0 M862.7,524.5 L862.0,589.0 M864.8,524.5 L864.0,589.0" stroke-width="1.4"/>
<path d="M836.4,525.8 L837.6,594.0 H851.2 V525.8 Z" fill="#000" stroke-width="0.8"/>
<path d="M836.4,525.8 L836.4,525.8 L853.6,525.8 L853.6,529.5 L851.2,530.0 L851.2,531.8 L836.4,531.8 L836.5,531.8 L853.6,531.8 L853.6,536.7 L851.2,537.4 L851.2,539.8 L836.5,539.8 L836.6,539.8 L853.6,539.8 L853.6,544.7 L851.2,545.3 L851.2,547.6 L836.6,547.6 L836.8,547.6 L853.6,547.6 L853.6,552.1 L851.2,552.7 L851.2,554.9 L836.8,554.9 L832.3,554.9 L849.0,554.9 L849.0,559.2 L846.6,559.8 L846.6,561.9 L832.3,561.9 L832.4,561.9 L849.0,561.9 L849.0,566.3 L846.6,566.9 L846.6,569.0 L832.4,569.0 L837.1,569.0 L853.6,569.0 L853.6,573.5 L851.2,574.0 L851.2,576.2 L837.1,576.2 L837.2,576.2 L853.6,576.2 L853.6,580.5 L851.2,581.1 L851.2,583.2 L837.2,583.2 L837.4,583.2 L853.6,583.2 L853.6,589.9 L851.2,590.8 L851.2,594.0 L837.4,594.0 L837.6,594.0 Z" fill="#000" stroke-width="0.8"/>
<ellipse cx="809.4" cy="527.8" rx="4" ry="1.8" fill="#000" stroke="none"/>
<ellipse cx="873.4" cy="527.8" rx="3.9" ry="1.8" fill="#000" stroke="none"/>
<ellipse cx="809.9" cy="535.7" rx="4" ry="1.8" fill="#000" stroke="none"/>
<ellipse cx="873.1" cy="535.7" rx="3.9" ry="1.8" fill="#000" stroke="none"/>
<ellipse cx="810.4" cy="543.9" rx="4" ry="1.8" fill="#000" stroke="none"/>
<ellipse cx="872.9" cy="543.9" rx="3.9" ry="1.8" fill="#000" stroke="none"/>
<ellipse cx="810.9" cy="551.4" rx="4" ry="1.8" fill="#000" stroke="none"/>
<ellipse cx="872.7" cy="551.4" rx="3.9" ry="1.8" fill="#000" stroke="none"/>
<ellipse cx="811.3" cy="558.4" rx="4" ry="1.8" fill="#000" stroke="none"/>
<ellipse cx="872.5" cy="558.4" rx="3.9" ry="1.8" fill="#000" stroke="none"/>
<ellipse cx="811.7" cy="565.4" rx="4" ry="1.8" fill="#000" stroke="none"/>
<ellipse cx="872.2" cy="565.4" rx="3.9" ry="1.8" fill="#000" stroke="none"/>
<ellipse cx="812.1" cy="572.6" rx="4" ry="1.8" fill="#000" stroke="none"/>
<ellipse cx="872.0" cy="572.6" rx="3.9" ry="1.8" fill="#000" stroke="none"/>
<ellipse cx="812.6" cy="579.8" rx="4" ry="1.8" fill="#000" stroke="none"/>
<ellipse cx="871.8" cy="579.8" rx="3.9" ry="1.8" fill="#000" stroke="none"/>
<ellipse cx="813.0" cy="586.6" rx="4" ry="1.8" fill="#000" stroke="none"/>
<ellipse cx="871.6" cy="586.6" rx="3.9" ry="1.8" fill="#000" stroke="none"/>
</g>
<g id="handA" stroke="#000" stroke-width="1.35" fill="none">
<path d="M782.5,569.8 C784.6,569.4 791.2,568.1 795.0,567.5 C798.8,566.9 800.4,566.8 805.0,566.3 C809.6,565.8 817.5,564.8 822.5,564.4 C827.5,564.0 832.1,563.7 835.0,563.6 C837.9,563.5 838.7,563.6 840.0,563.9 C841.3,564.2 842.2,565.3 842.6,565.6 L840.0,568.4 L832.5,570.6 L822.5,573.1 L810.0,576.3 L797.5,578.8 L785.0,581.9 Z" fill="#fff" stroke="none"/>
<path d="M743.1,555.6 Q751.7,557.5 756.3,561.3 L739.4,569.6 H782.5"/>
<path d="M756.3,561.3 C757.1,561.1 759.3,560.5 761.0,560.4 C762.7,560.2 764.4,560.2 766.3,560.4 C768.2,560.6 770.6,560.5 772.5,561.4 C774.4,562.3 775.7,564.2 777.5,565.6 C779.3,567.0 782.2,568.9 783.1,569.6"/>
<path d="M767.4,563.2 Q766.0,566.4000000000001 765.6,569.6"/>
<path d="M782.5,569.8 C784.6,569.4 791.2,568.1 795.0,567.5 C798.8,566.9 800.4,566.8 805.0,566.3 C809.6,565.8 817.5,564.8 822.5,564.4 C827.5,564.0 832.1,563.7 835.0,563.6 C837.9,563.5 838.7,563.6 840.0,563.9 C841.3,564.2 842.6,564.9 842.6,565.6 C842.6,566.4 841.7,567.6 840.0,568.4 C838.3,569.2 835.4,569.8 832.5,570.6 C829.6,571.4 826.2,572.2 822.5,573.1 C818.8,574.0 814.2,575.3 810.0,576.3 C805.8,577.2 801.7,577.9 797.5,578.8 C793.3,579.7 788.0,580.9 785.0,581.9 C782.0,582.9 780.7,583.4 779.4,584.8 C778.1,586.1 778.5,588.6 777.4,590.0 C776.2,591.4 773.3,592.6 772.5,593.1"/>
<ellipse cx="836.9" cy="567.4" rx="4.8" ry="2.1" transform="rotate(-14 836.9 567.4)" fill="#fff" stroke-width="1.1"/>
</g>
<path d="M831.9,558.8 H837 V563.4 L831.9,564 Z M832.4,570.9 L837,569.8 V573.4 H832.8 Z" fill="#000" stroke="none"/>
<g id="arrowA" stroke="#000" fill="none">
<path d="M825.2,621.2 Q852,628.6 882.6,617.5" stroke-width="1.4"/>
<path d="M795,612.6 L830.6,615.8 L818.7,626 Z" fill="#000" stroke-width="0.8"/>
</g>

<g id="boxlabels">
<rect x="21.2" y="496" width="40.4" height="19.7" fill="#000"/>
<path d="M35.8,511.4 Q27.6,510 27.6,506.6 Q28,501.4 41.6,501 Q55.4,501.4 55.6,506.6 Q55.4,510 48,511.4" stroke="#fff" stroke-width="1.3" fill="none"/>
<rect x="698.2" y="496" width="40.6" height="19.8" fill="#000"/>
<path d="M705,500.6 L732.8,506.3 L705,512.2 M715,502.8 V509.6" stroke="#fff" stroke-width="1.3" fill="none"/>
<rect x="679" y="333" width="41" height="20" fill="#000"/>
<path d="M686.4,339.4 H713.6 M686.4,339.4 Q686.2,347.6 693.8,348.2 Q700.8,347.8 701.2,339.6 M701.2,339.6 Q701.4,347 707.6,347.4 Q713.4,347 713.6,339.4" stroke="#fff" stroke-width="1.3" fill="none"/>
</g>
<g id="onoff" fill="#000" stroke="none">
<!-- ON -->
<path fill-rule="evenodd" d="M80,615.1 a13.9,4.25 0 1,0 27.8,0 a13.9,4.25 0 1,0 -27.8,0 Z M82.8,615.1 a11.1,2.4 0 1,1 22.2,0 a11.1,2.4 0 1,1 -22.2,0 Z"/>
<rect x="80.3" y="621.2" width="26.7" height="1.5"/>
<rect x="80.3" y="627.5" width="26.7" height="1.5"/>
<path d="M107,621.2 L107,623.4 L80.3,629 L80.3,626.8 Z"/>
<!-- OFF -->
<path fill-rule="evenodd" d="M752.9,608.6 a13.7,4.2 0 1,0 27.4,0 a13.7,4.2 0 1,0 -27.4,0 Z M755.7,608.6 a10.9,2.5 0 1,1 21.8,0 a10.9,2.5 0 1,1 -21.8,0 Z"/>
<rect x="753.2" y="615.1" width="26.9" height="1.6"/>
<rect x="777.6" y="615.1" width="2.5" height="7.8"/>
<rect x="766.1" y="615.1" width="2.4" height="6.4"/>
<rect x="753.2" y="625.1" width="26.9" height="1.6"/>
<rect x="777.6" y="625.1" width="2.5" height="7.5"/>
<rect x="766.1" y="625.1" width="2.4" height="6.2"/>
</g>

<g id="six" stroke="#000" fill="none" stroke-width="1.52">
<path d="M295.8,213.8 Q282,207.4 266.7,207.1 Q250,208 238.6,216.6"/>
<path d="M233.8,222.9 L234.4,215.4 L240.6,218 Z" fill="#000" stroke-width="0.7"/>
<path d="M284.6,232.1 L292.6,218.4"/>
<path d="M295.6,213.6 L294.8,221.6 L289.6,218.6 Z" fill="#000" stroke-width="0.7"/>
<ellipse cx="264.2" cy="223.8" rx="12.4" ry="6.2"/>
<ellipse cx="261.2" cy="224.4" rx="5.2" ry="2.3" stroke-width="1.17"/>
<path d="M258,222.4 Q266,221.4 273.4,223.2 L273,225.6" stroke-width="1.17"/>
</g>

</svg>
</body></html>
